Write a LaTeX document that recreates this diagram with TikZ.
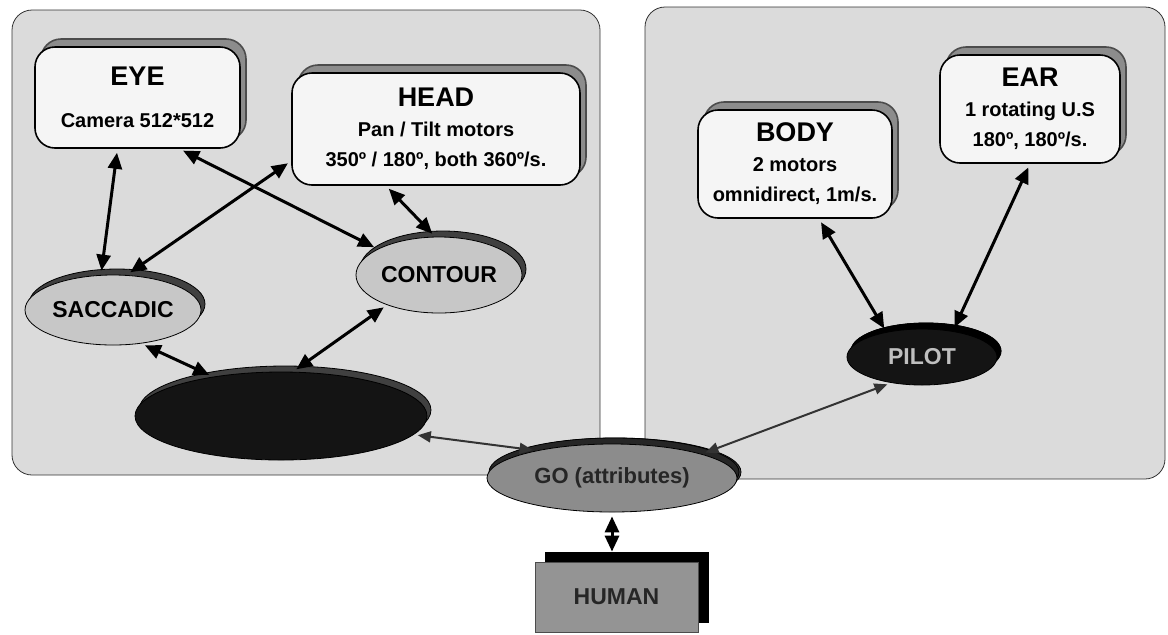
\documentclass[tikz,border=0pt]{standalone}
\usepackage{fontspec}
\setmainfont{Liberation Sans}
\usetikzlibrary{shapes.geometric,arrows.meta,shadows}

\newcommand{\boxtitle}[1]{{\fontsize{13.5}{16}\selectfont #1}}

\tikzset{
  panel/.style={draw=black!80, fill=black!14, rounded corners=10pt},
  unitbox/.style={draw, thick, fill=black!4, rounded corners=10pt, align=center,
    font=\bfseries\fontsize{10}{15}\selectfont,
    copy shadow={shadow xshift=3pt, shadow yshift=4pt, fill=black!45, draw=black!70}},
  behaviour/.style={ellipse, draw, inner sep=0pt, fill=black!22,
    font=\bfseries\fontsize{11.5}{13}\selectfont,
    copy shadow={shadow xshift=2pt, shadow yshift=3pt, fill=black!75}},
  link/.style={{Triangle[length=8pt,width=7pt]}-{Triangle[length=8pt,width=7pt]},
    line width=1.5pt, shorten <=2pt, shorten >=2pt},
  thinlink/.style={{Triangle[length=6.5pt,width=5.5pt]}-{Triangle[length=6.5pt,width=5.5pt]},
    line width=1pt, draw=black!80, shorten <=2pt, shorten >=2pt}
}

\begin{document}
\begin{tikzpicture}[x=0.5pt, y=-0.5pt]
  \useasboundingbox (0,0) rectangle (1168,634);

  % the two groups
  \draw [panel] (12,10) rectangle (600,475);
  \draw [panel] (645,7) rectangle (1165,479);

  % hardware
  \node [unitbox, minimum width=102.5pt, minimum height=50.5pt] (eye) at (137.5,97.5)
    {\boxtitle{EYE}\\[6pt] Camera 512*512};
  \node [unitbox, minimum width=144pt, minimum height=56pt] (head) at (436,129)
    {\boxtitle{HEAD}\\ Pan / Tilt motors\\ 350º / 180º, both 360º/s.};
  \node [unitbox, minimum width=97pt, minimum height=54pt] (body) at (795,164)
    {\boxtitle{BODY}\\ 2 motors\\ omnidirect, 1m/s.};
  \node [unitbox, minimum width=90pt, minimum height=54pt] (ear) at (1030,109)
    {\boxtitle{EAR}\\ 1 rotating U.S\\ 180º, 180º/s.};

  % behaviours
  \node [behaviour, minimum width=88pt, minimum height=35pt] (sacc) at (113,310) {SACCADIC};
  \node [behaviour, minimum width=83pt, minimum height=38pt] (cont) at (439,275) {CONTOUR};
  \node [behaviour, fill=black!92, minimum width=146pt, minimum height=44pt] (dark) at (281,416) {};
  \node [behaviour, fill=black!92, text=black!25, minimum width=75pt, minimum height=28pt,
    copy shadow={shadow xshift=2pt, shadow yshift=3pt, fill=black}] (pilot) at (922,357) {PILOT};
  \node [behaviour, fill=black!45, text=black!85, font=\bfseries\fontsize{11}{13}\selectfont,
    minimum width=125pt, minimum height=34pt,
    copy shadow={shadow xshift=1pt, shadow yshift=3pt, fill=black!85}] (go) at (612,478) {GO (attributes)};

  \node [draw=black!70, fill=black!42, text=black!85, font=\bfseries\fontsize{11.5}{13}\selectfont,
    minimum width=81.5pt, minimum height=35pt,
    copy shadow={shadow xshift=5pt, shadow yshift=5pt, fill=black, draw=black}] (human) at (616.5,597) {HUMAN};

  % links
  \draw [link] ([xshift=-10pt]eye.south) -- ([xshift=-6pt]sacc.north);
  \draw [link] ([xshift=21pt]eye.south) -- (cont.157);
  \draw [link] ([yshift=-16pt]head.west) -- ([xshift=7pt]sacc.north);
  \draw [link] ([xshift=-25pt]head.south) -- ([xshift=-2pt]cont.north);
  \draw [link] (sacc.-50) -- (dark.150);
  \draw [link] (cont.-150) -- ([xshift=6pt]dark.north);
  \draw [link] ([xshift=12pt]body.south) -- (pilot.145);
  \draw [link] (ear.south) -- (pilot.40);
  \draw [thinlink] (dark.-8) -- (go.160);
  \draw [thinlink] (go.15) -- (pilot.-140);
  \draw [link, shorten >=0pt] (go.south) -- ([yshift=5pt]go.south |- human.north);
\end{tikzpicture}
\end{document}
